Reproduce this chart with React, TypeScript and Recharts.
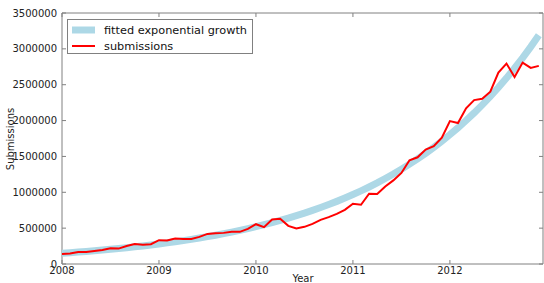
import React from 'react';
import { LineChart, Line, XAxis, YAxis, Legend, ReferenceArea, Label } from 'recharts';

// monthly values, Jan 2008 .. Dec 2012
const startYear = 2008;

const submissions = [
  140000, 145000, 168000, 168000, 182000, 196000, 220000, 215000, 252000, 280000, 270000, 276000,
  332000, 329000, 355000, 350000, 350000, 378000, 420000, 429000, 434000, 448000, 448000, 490000,
  555000, 513000, 621000, 630000, 532000, 495000, 518000, 560000, 616000, 653000, 700000, 756000,
  840000, 826000, 980000, 975000, 1082000, 1166000, 1270000, 1446000, 1488000, 1596000, 1642000, 1760000,
  1993000, 1965000, 2170000, 2286000, 2305000, 2403000, 2670000, 2795000, 2609000, 2809000, 2735000, 2763000,
];

const fitted = [
  150000, 158000, 166400, 175200, 184500, 194300, 204700, 215600, 227000, 239100, 251800, 265200,
  279300, 294200, 309800, 326300, 343600, 361900, 381200, 401400, 422800, 445300, 469000, 493900,
  520100, 547800, 576900, 607600, 639900, 673900, 709700, 747500, 787200, 829100, 873200, 919600,
  968500, 1020000, 1074000, 1131000, 1192000, 1255000, 1322000, 1392000, 1466000, 1544000, 1626000, 1713000,
  1804000, 1900000, 2001000, 2107000, 2219000, 2337000, 2461000, 2592000, 2730000, 2875000, 3028000, 3189000,
];

const xTicks = [2008, 2009, 2010, 2011, 2012];
const yTicks = [0, 500000, 1000000, 1500000, 2000000, 2500000, 3000000, 3500000];

const data = submissions.map((s, i) => ({ t: startYear + i / 12, submissions: s, fitted: fitted[i] }));

const W = 544;
const H = 283;
const M = { top: 13, right: 1, left: 0, bottom: 0 };
const plotTop = M.top;
const plotRight = W - M.right;
const font = '"DejaVu Sans", sans-serif';
const frame = '#808080';

const XTick = (props: any) => {
  const { x, y, payload } = props;
  return (
    <g>
      <line x1={x} y1={y} x2={x} y2={y - 4} stroke={frame} />
      <line x1={x} y1={plotTop} x2={x} y2={plotTop + 4} stroke={frame} />
      <text x={x} y={y + 10} textAnchor="middle" fontSize={10} fontFamily={font} fill="#222">
        {payload.value}
      </text>
    </g>
  );
};

const YTick = (props: any) => {
  const { x, y, payload } = props;
  return (
    <g>
      <line x1={x} y1={y} x2={x + 4} y2={y} stroke={frame} />
      <line x1={plotRight} y1={y} x2={plotRight - 4} y2={y} stroke={frame} />
      <text x={x - 5} y={y + 3.6} textAnchor="end" fontSize={10} fontFamily={font} fill="#222">
        {payload.value}
      </text>
    </g>
  );
};

const LegendBox = () => (
  <div
    style={{
      border: `1px solid ${frame}`,
      background: '#fff',
      width: 184,
      height: 33,
      fontFamily: font,
      fontSize: 11.3,
      color: '#111',
      position: 'relative',
    }}
  >
    <svg width={184} height={33} style={{ position: 'absolute', left: 0, top: 0 }}>
      <line x1={4} y1={10} x2={27} y2={10} stroke="#add8e6" strokeWidth={7} />
      <line x1={4} y1={26} x2={27} y2={26} stroke="#ff0000" strokeWidth={2} />
      <text x={36} y={14} fontSize={11.3} fontFamily={font} fill="#111">fitted exponential growth</text>
      <text x={36} y={30} fontSize={11.3} fontFamily={font} fill="#111">submissions</text>
    </svg>
  </div>
);

export default function App() {
  return (
    <div style={{ position: 'absolute', left: 0, top: 0, width: W, height: H, background: '#fff' }}>
      <LineChart width={W} height={H} data={data} margin={M}>
        <XAxis
          dataKey="t"
          type="number"
          domain={[2008, 2012.96]}
          ticks={xTicks}
          allowDataOverflow
          height={19}
          tickSize={0}
          tickMargin={0}
          axisLine={false}
          tickLine={false}
          tick={<XTick />}
        >
          <Label
            content={() => (
              <text x={303} y={282} textAnchor="middle" fontSize={10} fontFamily={font} fill="#222">
                Year
              </text>
            )}
          />
        </XAxis>
        <YAxis
          domain={[0, 3500000]}
          ticks={yTicks}
          allowDataOverflow
          width={62}
          tickSize={0}
          tickMargin={0}
          axisLine={false}
          tickLine={false}
          tick={<YTick />}
        >
          <Label
            content={() => (
              <text
                x={14}
                y={139}
                transform="rotate(-90 14 139)"
                textAnchor="middle"
                fontSize={10}
                fontFamily={font}
                fill="#222"
              >
                Submissions
              </text>
            )}
          />
        </YAxis>
        <ReferenceArea x1={2008} x2={2012.96} y1={0} y2={3500000} fill="none" stroke={frame} strokeWidth={1} />
        <Line
          dataKey="fitted"
          stroke="#add8e6"
          strokeWidth={7}
          dot={false}
          type="linear"
          isAnimationActive={false}
        />
        <Line
          dataKey="submissions"
          stroke="#ff0000"
          strokeWidth={2}
          dot={false}
          type="linear"
          isAnimationActive={false}
        />
        <Legend
          layout="vertical"
          align="center"
          verticalAlign="middle"
          content={<LegendBox />}
          wrapperStyle={{ position: 'absolute', left: 67, top: 19, width: 'auto', height: 'auto' }}
        />
      </LineChart>
    </div>
  );
}
